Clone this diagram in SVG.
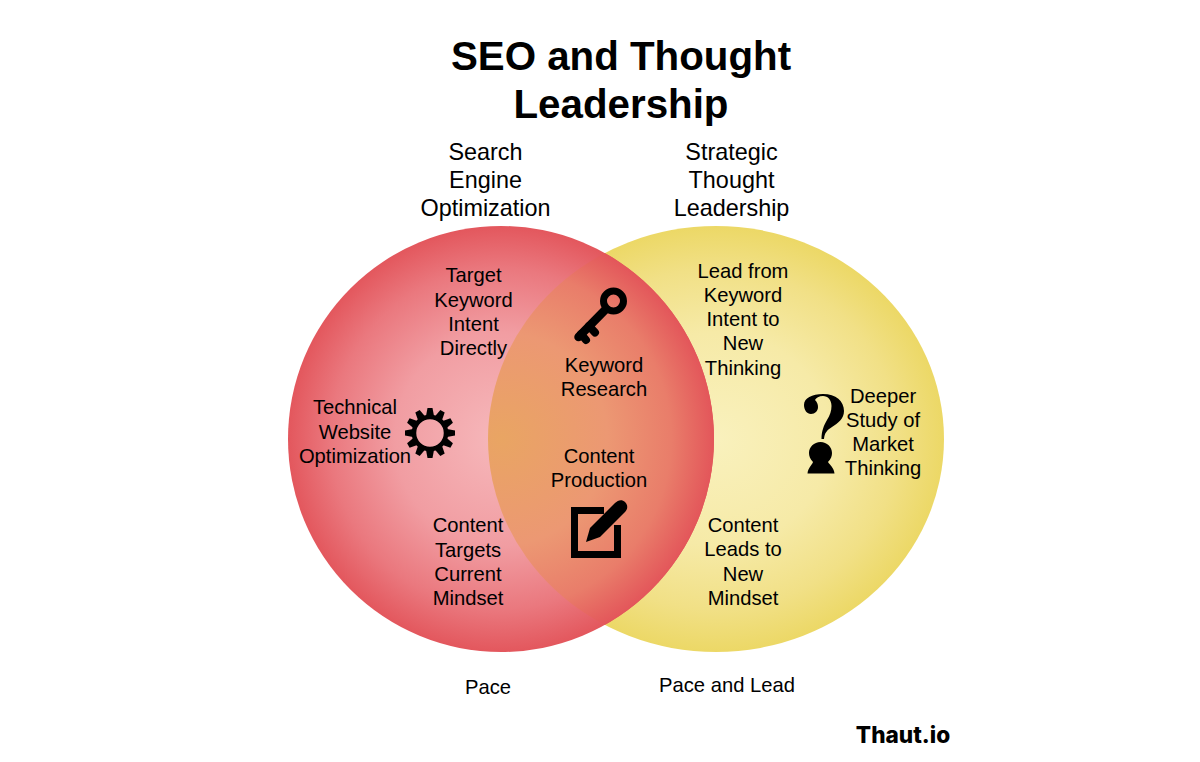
<svg xmlns="http://www.w3.org/2000/svg" xmlns:xlink="http://www.w3.org/1999/xlink" width="1200" height="762" viewBox="0 0 1200 762">
<style>
text{font-family:"Liberation Sans",Arial,sans-serif;fill:#000;text-anchor:middle}
.t{font-size:40.300px;font-weight:700}
.h{font-size:23.400px}
.b{font-size:20.200px}
.logo{font-family:Inter,"Liberation Sans",sans-serif;font-size:22.600px;font-weight:800}
</style>
<defs>
<radialGradient id="gr" gradientUnits="userSpaceOnUse" cx="501" cy="439" r="213">
<stop offset="0" stop-color="#f6b8bb"/><stop offset=".5" stop-color="#f19da2"/><stop offset=".8" stop-color="#ea787e"/><stop offset="1" stop-color="#e3575d"/>
</radialGradient>
<radialGradient id="gy" gradientUnits="userSpaceOnUse" gradientTransform="translate(716 439) scale(1 .934) translate(-716 -439)" cx="716" cy="439" r="228">
<stop offset="0" stop-color="#f9f1bd"/><stop offset=".5" stop-color="#f6eaa7"/><stop offset=".8" stop-color="#f1e086"/><stop offset="1" stop-color="#ecd866"/>
</radialGradient>
<radialGradient id="go" gradientUnits="userSpaceOnUse" cx="501" cy="439" r="213">
<stop offset="0" stop-color="#e9a563"/><stop offset=".5" stop-color="#ec9873"/><stop offset=".8" stop-color="#e97d6a"/><stop offset="1" stop-color="#e3565a"/>
</radialGradient>
<clipPath id="lens"><circle cx="501" cy="439" r="213"/></clipPath>
<path id="tooth" d="M426 416 L427.500 408 H432.500 L434 416 Z"/>
</defs>
<g id="title"><text class="t" x="621" y="70">SEO and Thought</text><text class="t" x="621" y="118">Leadership</text></g>
<g id="right-set"><ellipse cx="716" cy="439" rx="228" ry="213" fill="url(#gy)"/></g>
<g id="left-set"><circle cx="501" cy="439" r="213" fill="url(#gr)"/></g>
<g id="overlap"><ellipse cx="716" cy="439" rx="228" ry="213" fill="url(#go)" clip-path="url(#lens)"/></g>
<g id="connectors"/>
<g id="header-seo"><text class="h" x="485.500" y="160">Search</text><text class="h" x="485.500" y="188">Engine</text><text class="h" x="485.500" y="216">Optimization</text></g>
<g id="header-stl"><text class="h" x="731.500" y="160">Strategic</text><text class="h" x="731.500" y="188">Thought</text><text class="h" x="731.500" y="216">Leadership</text></g>
<g id="target"><text class="b" x="473.500" y="282">Target</text><text class="b" x="473.500" y="307">Keyword</text><text class="b" x="473.500" y="331">Intent</text><text class="b" x="473.500" y="355">Directly</text></g>
<g id="technical"><text class="b" x="355" y="414">Technical</text><text class="b" x="355" y="439">Website</text><text class="b" x="355" y="463">Optimization</text></g>
<g id="gear" fill="#000">
<circle cx="430" cy="433" r="16" fill="none" stroke="#000" stroke-width="4.500"/>
<use xlink:href="#tooth"/><use xlink:href="#tooth" transform="rotate(30 430 433)"/><use xlink:href="#tooth" transform="rotate(60 430 433)"/><use xlink:href="#tooth" transform="rotate(90 430 433)"/><use xlink:href="#tooth" transform="rotate(120 430 433)"/><use xlink:href="#tooth" transform="rotate(150 430 433)"/><use xlink:href="#tooth" transform="rotate(180 430 433)"/><use xlink:href="#tooth" transform="rotate(210 430 433)"/><use xlink:href="#tooth" transform="rotate(240 430 433)"/><use xlink:href="#tooth" transform="rotate(270 430 433)"/><use xlink:href="#tooth" transform="rotate(300 430 433)"/><use xlink:href="#tooth" transform="rotate(330 430 433)"/>
</g>
<g id="content-targets"><text class="b" x="468" y="532">Content</text><text class="b" x="468" y="557">Targets</text><text class="b" x="468" y="581">Current</text><text class="b" x="468" y="605">Mindset</text></g>
<g id="key" fill="none" stroke="#000" stroke-linecap="round">
<circle cx="613.500" cy="301" r="10" stroke-width="7"/>
<path d="M606 309 L578.500 337" stroke-width="8.500"/>
<path d="M589 326 L595 332.500 M581 334 L586 340" stroke-width="8"/>
</g>
<g id="keyword-research"><text class="b" x="604" y="372">Keyword</text><text class="b" x="604" y="396">Research</text></g>
<g id="content-production"><text class="b" x="599" y="463">Content</text><text class="b" x="599" y="487">Production</text></g>
<g id="edit">
<path d="M604 510.500 H574.500 V554.500 H617.500 V525" fill="none" stroke="#000" stroke-width="7"/>
<path d="M586 542 L590 528 L615 503 C618 500 622 499 625 502 C628 505 628 509 625 512 L600 537 Z" fill="#000"/>
</g>
<g id="lead-from"><text class="b" x="743" y="278">Lead from</text><text class="b" x="743" y="302">Keyword</text><text class="b" x="743" y="326">Intent to</text><text class="b" x="743" y="350">New</text><text class="b" x="743" y="375">Thinking</text></g>
<g id="question" fill="#000">
<path d="M804 405 C804 398 812 394 823 394 C836 394 844 401 844 411 C844 419 838 423 832 427 C827 430 824.500 433 824 439 L821.500 439 C821.500 431 824 425 827 420 C830 415 831.500 411 831.500 406 C831.500 400 828 396 823 396 C819 396 816 398 815 400 C817 402 818 404 818 407 C818 411 815 414 811 414 C807 414 804 410 804 405 Z"/>
<path d="M807.500 473.500 C808 468 812 465 813 462 C810 459 809 456 809 453 C809 447 814 442 820.500 442 C827 442 832 447 832 453 C832 456 831 459 828 462 C830 465 834 468 834.500 473.500 Z"/>
</g>
<g id="deeper"><text class="b" x="883" y="403">Deeper</text><text class="b" x="883" y="427">Study of</text><text class="b" x="883" y="451">Market</text><text class="b" x="883" y="475">Thinking</text></g>
<g id="content-leads"><text class="b" x="743" y="532">Content</text><text class="b" x="743" y="556">Leads to</text><text class="b" x="743" y="581">New</text><text class="b" x="743" y="605">Mindset</text></g>
<g id="pace"><text class="b" x="488" y="694">Pace</text></g>
<g id="pace-lead"><text class="b" x="727" y="692">Pace and Lead</text></g>
<g id="brand"><text class="logo" x="903" y="743">Thaut.io</text></g>
</svg>
